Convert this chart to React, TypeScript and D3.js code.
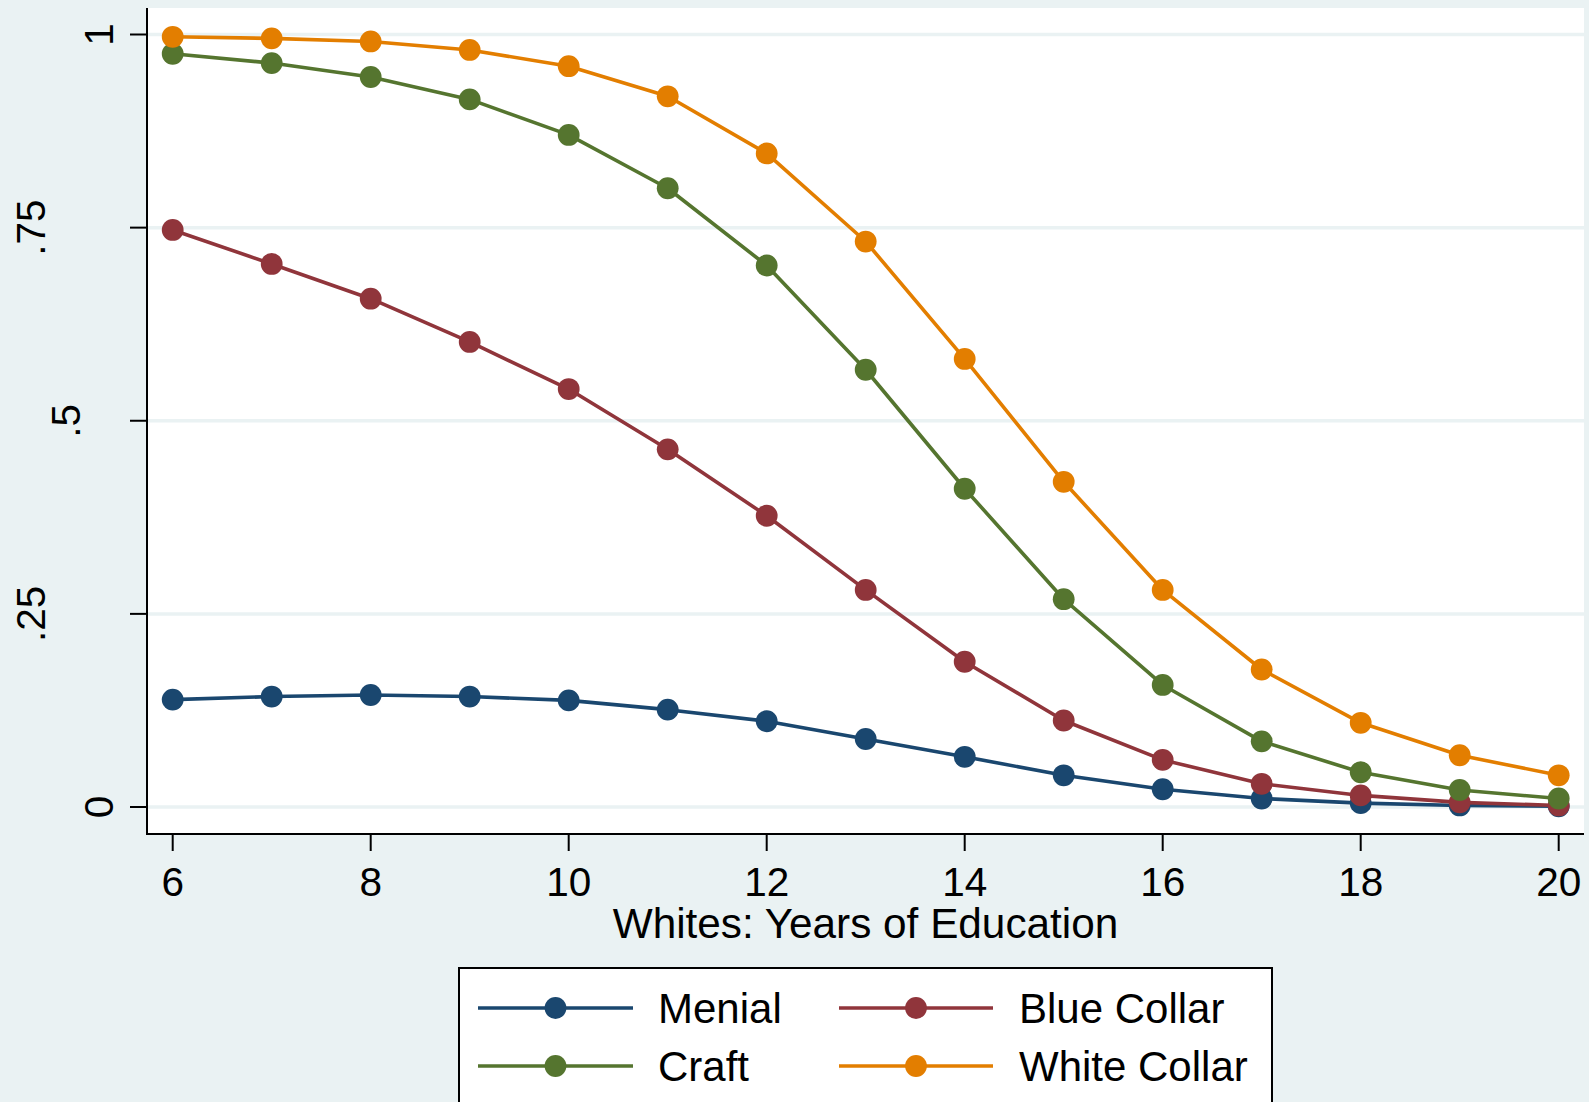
import React from "react";
import * as d3 from "d3";

// ---------- data ----------
const years = [6, 7, 8, 9, 10, 11, 12, 13, 14, 15, 16, 17, 18, 19, 20];
const menial = [0.139, 0.143, 0.145, 0.143, 0.138, 0.126, 0.111, 0.088, 0.065, 0.041, 0.023, 0.011, 0.005, 0.002, 0.001];
const blueCollar = [0.747, 0.703, 0.658, 0.602, 0.541, 0.463, 0.377, 0.281, 0.188, 0.112, 0.061, 0.030, 0.015, 0.006, 0.002];
const craft = [0.975, 0.963, 0.945, 0.916, 0.870, 0.801, 0.701, 0.566, 0.412, 0.269, 0.158, 0.085, 0.045, 0.022, 0.011];
const whiteCollar = [0.997, 0.995, 0.991, 0.980, 0.959, 0.920, 0.846, 0.732, 0.580, 0.421, 0.281, 0.178, 0.109, 0.067, 0.041];
const seriesNames = ["Menial", "Blue Collar", "Craft", "White Collar"];
const seriesValues = [menial, blueCollar, craft, whiteCollar];
const yTicks = [0, 0.25, 0.5, 0.75, 1];
const yTickLabels = ["0", ".25", ".5", ".75", "1"];
const xTicks = [6, 8, 10, 12, 14, 16, 18, 20];
const xTitle = "Whites: Years of Education";

// ---------- styles / layout ----------
const W = 1589;
const H = 1102;
const colors = ["#1a476f", "#90353b", "#55752f", "#e37e00"];
const BG = "#eaf2f3";
const FONT = "'Liberation Sans', Arial, sans-serif";
const plot = { left: 147, right: 1584, top: 8, bottom: 834 };
const MARKER_R = 10.9;
const LINE_W = 3.6;
// horizontal baseline position of each rotated y label (as rendered in the original)
const yLabelBaseline: Record<string, number> = { "0": 113, ".25": 45, ".5": 80, ".75": 45, "1": 113 };

export default function App() {
  const x = d3.scaleLinear().domain([6, 20]).range([172.7, 1558.7]);
  const y = d3.scaleLinear().domain([0, 1]).range([807, 34.5]);
  const line = d3
    .line<number>()
    .x((_, i) => x(years[i]))
    .y((d) => y(d));

  const legendRows = [
    [0, 1],
    [2, 3],
  ];
  const legendCols = [
    { lineX0: 478, lineX1: 633, textX: 658 },
    { lineX0: 839, lineX1: 993, textX: 1019 },
  ];
  const legendRowY = [1008, 1066];

  return (
    <svg
      width={W}
      height={H}
      viewBox={`0 0 ${W} ${H}`}
      style={{ position: "absolute", left: 0, top: 0, display: "block" }}
      fontFamily={FONT}
    >
      <rect x={0} y={0} width={W} height={H} fill={BG} />
      <rect
        x={plot.left}
        y={plot.top}
        width={plot.right - plot.left}
        height={plot.bottom - plot.top}
        fill="#ffffff"
      />
      {/* gridlines */}
      {yTicks.map((t) => (
        <line
          key={"g" + t}
          x1={plot.left}
          x2={plot.right}
          y1={y(t)}
          y2={y(t)}
          stroke={BG}
          strokeWidth={3.5}
        />
      ))}
      {/* series */}
      {seriesValues.map((vals, si) => (
        <g key={seriesNames[si]}>
          <path d={line(vals) || ""} fill="none" stroke={colors[si]} strokeWidth={LINE_W} strokeLinejoin="round" />
          {vals.map((v, i) => (
            <circle key={i} cx={x(years[i])} cy={y(v)} r={MARKER_R} fill={colors[si]} />
          ))}
        </g>
      ))}
      {/* y axis */}
      <line x1={plot.left} x2={plot.left} y1={plot.top} y2={plot.bottom} stroke="#000" strokeWidth={2} />
      {yTicks.map((t, i) => (
        <g key={"yt" + t}>
          <line x1={plot.left - 17} x2={plot.left} y1={y(t)} y2={y(t)} stroke="#000" strokeWidth={2} />
          <text
            transform={`translate(${yLabelBaseline[yTickLabels[i]]},${y(t)}) rotate(-90)`}
            textAnchor="middle"
            fontSize={40.5}
            fill="#000"
          >
            {yTickLabels[i]}
          </text>
        </g>
      ))}
      {/* x axis */}
      <line x1={plot.left - 1} x2={plot.right} y1={plot.bottom} y2={plot.bottom} stroke="#000" strokeWidth={2} />
      {xTicks.map((t) => (
        <g key={"xt" + t}>
          <line x1={x(t)} x2={x(t)} y1={plot.bottom} y2={plot.bottom + 17} stroke="#000" strokeWidth={2} />
          <text x={x(t)} y={896} textAnchor="middle" fontSize={40.5} fill="#000">
            {t}
          </text>
        </g>
      ))}
      <text x={(plot.left + plot.right) / 2} y={938} textAnchor="middle" fontSize={42.3} fill="#000">
        {xTitle}
      </text>
      {/* legend */}
      <rect x={459} y={968} width={813} height={200} fill="#ffffff" stroke="#000" strokeWidth={2} />
      {legendRows.map((row, ri) =>
        row.map((si, ci) => {
          const c = legendCols[ci];
          const ly = legendRowY[ri];
          return (
            <g key={"leg" + si}>
              <line x1={c.lineX0} x2={c.lineX1} y1={ly} y2={ly} stroke={colors[si]} strokeWidth={LINE_W} />
              <circle cx={(c.lineX0 + c.lineX1) / 2} cy={ly} r={MARKER_R} fill={colors[si]} />
              <text x={c.textX} y={ly + 15} fontSize={42} fill="#000">
                {seriesNames[si]}
              </text>
            </g>
          );
        })
      )}
    </svg>
  );
}
